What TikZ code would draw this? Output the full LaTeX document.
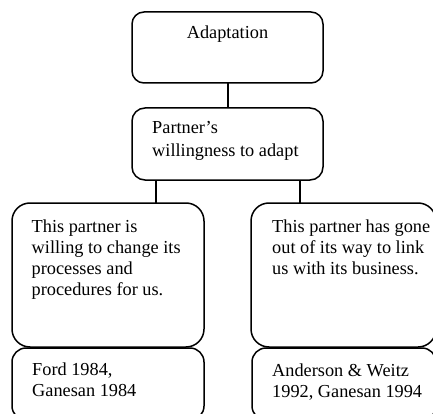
\documentclass[tikz,border=0pt]{standalone}
\usepackage{fontspec}
\setmainfont{Liberation Serif}
\begin{document}
\begin{tikzpicture}[x=1pt,y=-1pt,
  box/.style={draw=black,line width=1.5pt,inner sep=0pt,outer sep=0pt,
              rectangle,minimum width=#1},
  txt/.style={anchor=base west,inner sep=0pt,align=left,
              font=\fontsize{18.3}{21.1}\selectfont},
  wire/.style={line width=1.6pt}]
\useasboundingbox (0,0) rectangle (433,414);

% boxes
\node[box=191pt,minimum height=71pt,rounded corners=12pt] (top)  at (227.5,47.5) {};
\node[box=191pt,minimum height=72pt,rounded corners=13pt] (will) at (227.5,144) {};
\node[box=192pt,minimum height=144pt,rounded corners=18pt] (left)  at (108,275) {};
\node[box=185pt,minimum height=144pt,rounded corners=18pt] (right) at (343.5,275) {};
\node[box=192pt,minimum height=72pt,rounded corners=14pt] (lref) at (108,384) {};
\node[box=184pt,minimum height=72pt,rounded corners=14pt] (rref) at (344,384) {};

% texts (each placed by the baseline of its last line)
\node[txt,anchor=base] (ttop) at (227.5,39) {Adaptation};
\node[txt,font=\fontsize{18.3}{23}\selectfont] (twill) at (152,156.5) {Partner’s\\willingness to adapt};
\node[txt] (tleft) at (31.5,295.8) {This partner is\\willing to change its\\processes and\\procedures for us.};
\node[txt] (tright) at (272,274.7) {This partner has gone\\out of its way to link\\us with its business.};
\node[txt] (tlref) at (32,396.1) {Ford 1984,\\Ganesan 1984};
\node[txt] (trref) at (272,397.6) {Anderson \& Weitz\\1992, Ganesan 1994};

% connectors
\coordinate (cm) at (228,0);
\coordinate (cl) at (156,0);
\coordinate (cr) at (300,0);
\draw[wire] (top.south -| cm) -- (will.north -| cm);
\draw[wire] (will.south -| cl) -- (left.north -| cl);
\draw[wire] (will.south -| cr) -- (right.north -| cr);
\end{tikzpicture}
\end{document}
